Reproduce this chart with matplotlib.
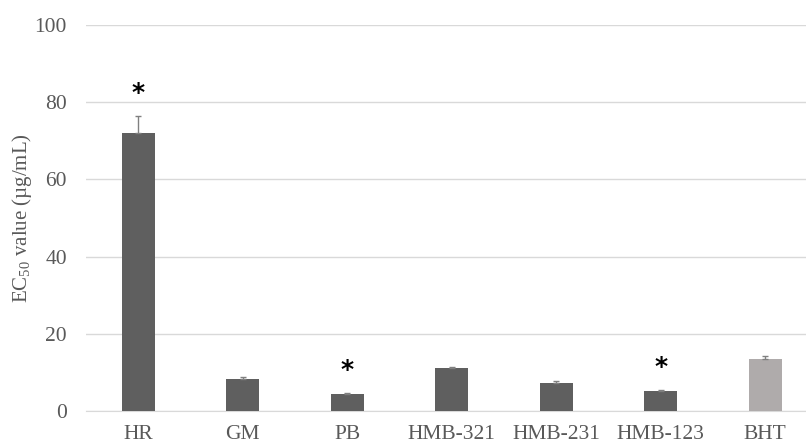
import matplotlib
matplotlib.use("Agg")
import matplotlib.pyplot as plt
import numpy as np

# EC50 values
samples = ['HR', 'GM', 'PB', 'HMB-321', 'HMB-231', 'HMB-123', 'BHT']
ec50 = [72.0, 8.3, 4.5, 11.05, 7.3, 5.2, 13.4]
ec50_err = [4.4, 0.45, 0.2, 0.3, 0.5, 0.25, 0.8]
significant = [True, False, True, False, False, True, False]
bar_colors = ['#5f5f5f'] * 6 + ['#afabab']

plt.rcParams['font.family'] = ['Liberation Serif', 'DejaVu Serif']
plt.rcParams['mathtext.fontset'] = 'custom'
plt.rcParams['mathtext.rm'] = 'Liberation Serif'

fig = plt.figure(figsize=(8.06, 4.45), dpi=100)
ax = fig.add_axes([86 / 806, 34 / 445, 1 - 86 / 806, 386 / 445])

x = np.arange(len(samples))
ax.bar(x, ec50, width=0.315, color=bar_colors, zorder=3)
ax.errorbar(x, ec50, yerr=[np.zeros(len(x)), ec50_err], fmt='none',
            ecolor='#808080', elinewidth=1, capsize=2.5, capthick=1, zorder=4)

# significance marks
for xi, v, e, s in zip(x, ec50, ec50_err, significant):
    if s:
        ax.text(xi, v + e + 6.0, '*', ha='center', va='center',
                fontsize=18, fontweight='bold', color='black',
                family='DejaVu Sans')

ax.set_xlim(-0.5, 6.39)
ax.set_ylim(0, 100)
ax.set_yticks(np.arange(0, 101, 20))
ax.set_xticks(x)
ax.set_xticklabels(samples)
ax.yaxis.grid(True, color='#d9d9d9', linewidth=1, zorder=0)
ax.set_axisbelow(True)
for side in ['top', 'right', 'left']:
    ax.spines[side].set_visible(False)
ax.spines['bottom'].set_color('#d9d9d9')
ax.tick_params(axis='both', length=0, labelsize=15.5, labelcolor='#595959')
ax.tick_params(axis='y', pad=13.7)
ax.tick_params(axis='x', pad=10)
ax.set_ylabel(r'EC$_{\mathrm{50}}$ value (µg/mL)', fontsize=15, color='#595959',
              va='center')
ax.yaxis.set_label_coords(-64 / 720, 0.5)

fig.savefig('out.png', dpi=100)
